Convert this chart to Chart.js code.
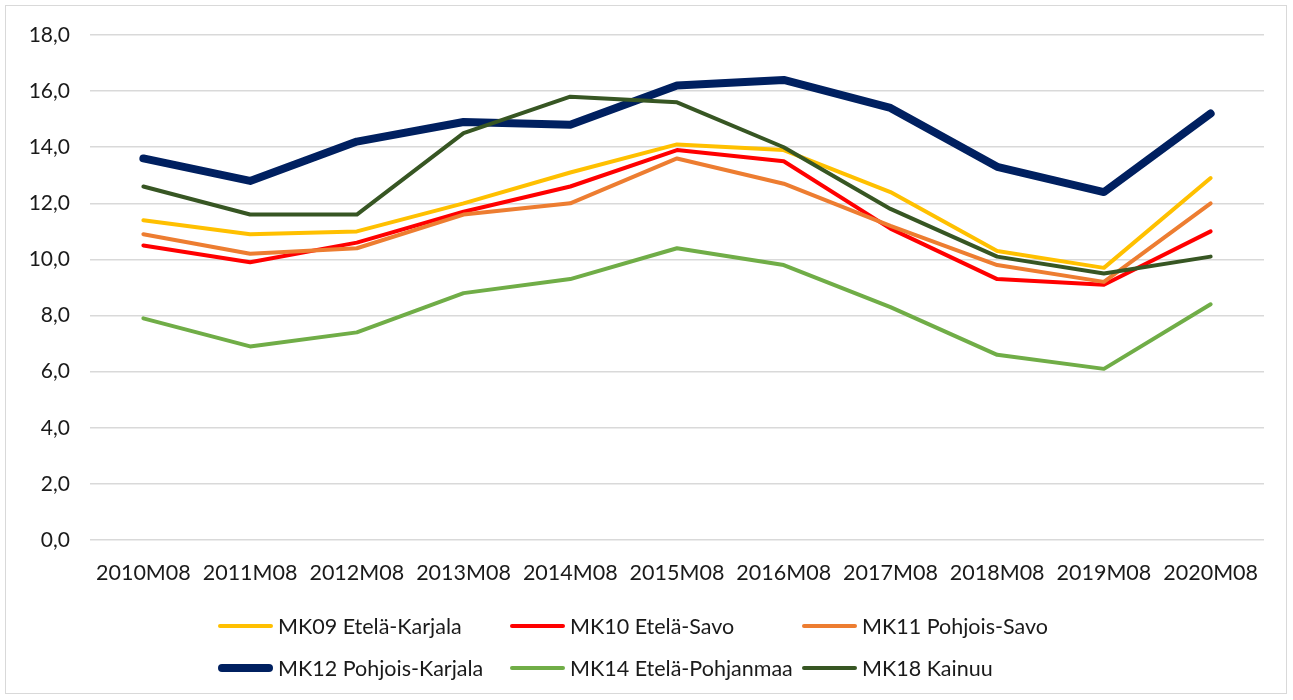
<!DOCTYPE html>
<html>
<head>
<meta charset="utf-8">
<script src="https://cdn.jsdelivr.net/npm/chart.js@4"></script>
<style>
  body { margin: 0; background: #fff; }
  #wrap { position: relative; width: 1293px; height: 700px; }
  #frame { position: absolute; left: 5px; top: 5px; width: 1282px; height: 689px; border: 1px solid #d9d9d9; box-sizing: border-box; }
  #legend { position: absolute; left: 218px; top: 605px; font-family: Lato, sans-serif; font-size: 21.5px; color: #1a1a1a; }
  .row { display: flex; height: 42px; align-items: center; }
  .item { display: flex; align-items: center; width: 292px; }
  .swatch { width: 55px; border-radius: 4px; margin-right: 5px; }
</style>
</head>
<body>
<div id="wrap">
  <div id="frame"></div>
  <canvas id="chart" width="1293" height="700"></canvas>
  <div id="legend"></div>
</div>
<script>
const categories = ['2010M08', '2011M08', '2012M08', '2013M08', '2014M08', '2015M08', '2016M08', '2017M08', '2018M08', '2019M08', '2020M08'];
const seriesNames = ['MK09 Etelä-Karjala', 'MK10 Etelä-Savo', 'MK11 Pohjois-Savo', 'MK12 Pohjois-Karjala', 'MK14 Etelä-Pohjanmaa', 'MK18 Kainuu'];
const mk09 = [11.4, 10.9, 11.0, 12.0, 13.1, 14.1, 13.9, 12.4, 10.3, 9.7, 12.9];
const mk10 = [10.5, 9.9, 10.6, 11.7, 12.6, 13.9, 13.5, 11.1, 9.3, 9.1, 11.0];
const mk11 = [10.9, 10.2, 10.4, 11.6, 12.0, 13.6, 12.7, 11.2, 9.8, 9.2, 12.0];
const mk12 = [13.6, 12.8, 14.2, 14.9, 14.8, 16.2, 16.4, 15.4, 13.3, 12.4, 15.2];
const mk14 = [7.9, 6.9, 7.4, 8.8, 9.3, 10.4, 9.8, 8.3, 6.6, 6.1, 8.4];
const mk18 = [12.6, 11.6, 11.6, 14.5, 15.8, 15.6, 14.0, 11.8, 10.1, 9.5, 10.1];
const yTicks = [0, 2, 4, 6, 8, 10, 12, 14, 16, 18];

const colors = ['#FFC000', '#FF0000', '#ED7D31', '#002060', '#70AD47', '#375623'];
const widths = [4, 4, 4, 8, 4, 4];
const allData = [mk09, mk10, mk11, mk12, mk14, mk18];

const datasets = allData.map((d, i) => ({
    label: seriesNames[i],
    data: d,
    borderColor: colors[i],
    backgroundColor: colors[i],
    borderWidth: widths[i],
    borderCapStyle: 'round',
    borderJoinStyle: 'round',
    pointRadius: 0,
    tension: 0,
    order: 6 - i
}));

new Chart(document.getElementById('chart'), {
    type: 'line',
    data: { labels: categories, datasets: datasets },
    options: {
        responsive: false,
        animation: false,
        layout: { padding: { left: 20, right: 29, top: 35, bottom: 110 } },
        plugins: { legend: { display: false }, tooltip: { enabled: false } },
        scales: {
            x: {
                offset: true,
                grid: { display: false },
                border: { display: false },
                ticks: { color: '#1a1a1a', font: { family: 'Lato', size: 21.5 }, padding: 12, maxRotation: 0, autoSkip: false },
                afterFit: s => { s.height = 50; }
            },
            y: {
                min: 0,
                max: 18,
                afterBuildTicks: s => { s.ticks = yTicks.map(v => ({ value: v })); },
                grid: { color: '#d9d9d9', lineWidth: 1.5, drawTicks: false },
                border: { display: false },
                ticks: {
                    color: '#1a1a1a',
                    font: { family: 'Lato', size: 21 },
                    padding: 20,
                    callback: v => v.toFixed(1).replace('.', ',')
                },
                afterFit: s => { s.width = 70; }
            }
        }
    }
});

// legend in three columns like the original
const legend = document.getElementById('legend');
[[0, 1, 2], [3, 4, 5]].forEach(r => {
    const row = document.createElement('div');
    row.className = 'row';
    r.forEach(i => {
        const item = document.createElement('div');
        item.className = 'item';
        item.innerHTML = '<div class="swatch" style="height:' + widths[i] + 'px;background:' + colors[i] + '"></div><span>' + seriesNames[i] + '</span>';
        row.appendChild(item);
    });
    legend.appendChild(row);
});
</script>
</body>
</html>
